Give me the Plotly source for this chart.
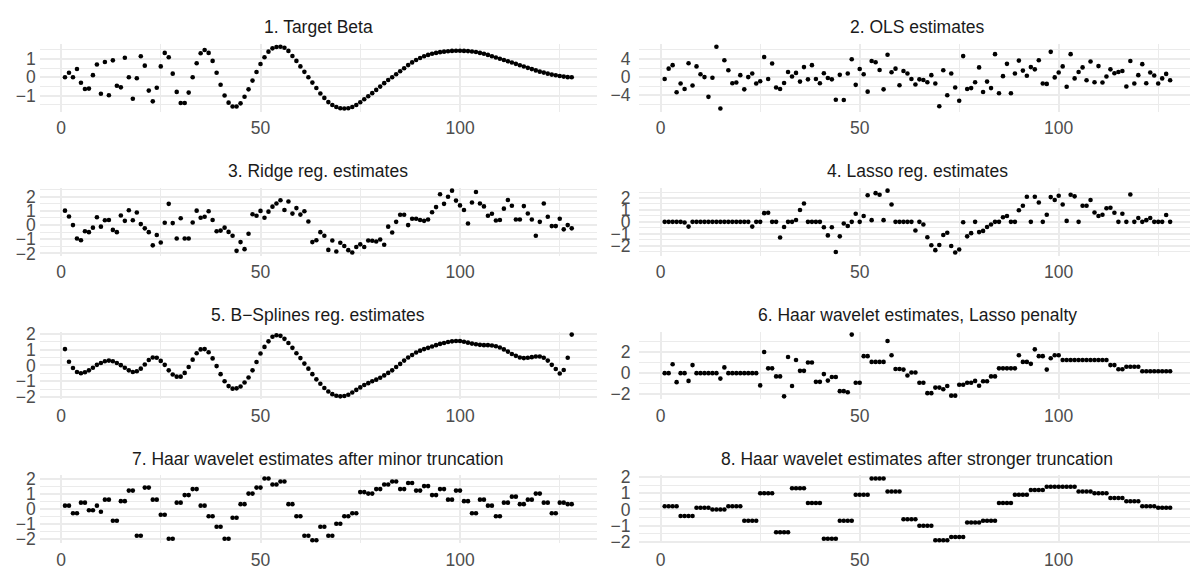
import plotly.graph_objects as go

# ---- data -----------------------------------------------------------------
index = list(range(1, 129))

target_beta = [
    0.0, 0.25, 0.0, 0.46, -0.3, -0.64, -0.62, 0.12, 0.7, -0.9,
    0.84, -0.98, 0.93, -0.46, -0.55, 1.07, 0.0, -1.18, -0.05, 1.16,
    0.64, -0.73, -1.32, -0.57, 0.6, 1.34, 1.1, 0.2, -0.8, -1.41,
    -1.41, -0.84, 0.0, 0.77, 1.32, 1.5, 1.34, 0.9, 0.25, -0.41,
    -1.0, -1.39, -1.6, -1.6, -1.43, -1.07, -0.66, -0.18, 0.29, 0.73,
    1.1, 1.41, 1.59, 1.66, 1.68, 1.62, 1.45, 1.17, 0.9, 0.6,
    0.3, 0.0, -0.29, -0.59, -0.89, -1.13, -1.36, -1.52, -1.63, -1.7,
    -1.71, -1.7, -1.63, -1.52, -1.37, -1.2, -1.04, -0.87, -0.69, -0.51,
    -0.32, -0.15, 0.0, 0.17, 0.33, 0.5, 0.67, 0.82, 0.95, 1.06,
    1.16, 1.23, 1.29, 1.34, 1.38, 1.41, 1.43, 1.45, 1.46, 1.46,
    1.45, 1.44, 1.42, 1.39, 1.34, 1.29, 1.23, 1.16, 1.09, 1.02,
    0.95, 0.88, 0.81, 0.74, 0.66, 0.59, 0.52, 0.45, 0.38, 0.31,
    0.26, 0.2, 0.15, 0.11, 0.07, 0.04, 0.01, 0.0,
]

ols = [
    -0.43, 1.86, 2.64, -3.36, -1.43, -2.64, 3.07, -1.86, 2.36, 0.64,
    0.0, -4.36, -0.14, 6.71, -6.93, 3.71, 1.5, -1.36, -1.21, 0.43,
    -2.71, 0.0, 0.79, -1.43, -0.93, 4.43, -0.43, 3.0, -2.29, -2.64,
    -1.29, 1.14, 0.14, 0.93, -1.0, 2.21, -0.5, 2.64, -0.43, -1.36,
    0.86, -0.21, -0.5, -5.0, 0.5, -5.07, 0.79, 3.93, -1.71, 1.79,
    0.64, -3.21, 3.57, 3.29, 1.57, -2.71, 4.93, 1.07, 1.86, -1.79,
    1.36, 0.79, -0.43, -1.64, -0.5, -0.64, -1.14, 0.43, -1.43, -6.43,
    1.5, -4.0, 0.79, -2.29, -5.21, 4.64, -2.64, -2.43, -1.14, 2.14,
    -3.29, -1.0, -2.43, 5.07, -3.57, 0.21, 2.93, -3.57, 0.79, 3.64,
    1.43, 0.29, 2.21, 1.71, 3.71, -1.43, -1.5, 5.57, -0.07, 1.0,
    2.36, -2.14, 5.07, -0.29, 1.14, 2.14, -0.71, 3.43, -1.14, 2.43,
    -1.21, 0.14, 1.71, 0.86, 1.14, 1.36, -2.07, 3.57, -1.43, 0.43,
    2.86, -1.36, 1.0, 0.36, -1.43, -0.29, 0.71, -0.71,
]

ridge = [
    1.02, 0.61, 0.0, -0.95, -1.07, -0.43, -0.5, -0.18, 0.55, -0.11,
    0.34, 0.36, -0.34, -0.5, 0.68, 0.3, 1.05, 0.34, 0.89, 0.07,
    -0.23, -0.5, -1.43, -0.7, -1.23, 0.16, 1.5, 0.14, -0.95, 0.48,
    -0.95, -0.95, 0.18, 1.02, 0.52, 0.59, 0.98, 0.36, -0.43, -0.39,
    -0.18, -0.48, -0.75, -1.82, -1.2, -1.7, -0.61, 0.77, 0.66, 1.0,
    0.52, 0.95, 1.3, 1.52, 1.75, 1.07, 1.66, 0.81, 1.2, 0.74,
    0.98, 0.25, -1.2, -1.07, -0.5, -0.75, -1.75, -1.09, -1.86, -1.25,
    -1.48, -1.77, -1.93, -1.55, -1.36, -1.55, -1.09, -1.11, -1.16, -1.02,
    -1.39, -0.11, -0.52, 0.23, 0.73, 0.73, 0.0, 0.45, 0.45, 0.36,
    0.3, 0.39, 0.91, 1.27, 2.18, 1.5, 2.0, 2.43, 1.73, 1.39,
    1.07, 0.11, 1.59, 2.34, 1.52, 1.32, 0.66, 0.8, 0.32, 0.36,
    1.16, 1.77, 1.36, 0.39, 0.39, 1.34, 0.82, 0.39, -0.75, 0.23,
    1.52, 0.59, -0.07, -0.07, 0.45, -0.3, 0.0, -0.23,
]

lasso = [
    0.0, 0.0, 0.0, 0.0, 0.0, -0.05, -0.4, 0.0, 0.0, 0.0,
    0.0, 0.0, 0.0, 0.0, 0.0, 0.0, 0.0, 0.0, 0.0, 0.0,
    0.0, 0.0, -0.4, 0.0, 0.0, 0.73, 0.76, 0.0, 0.0, -1.32,
    -0.43, 0.0, 0.0, 0.16, 1.0, 1.54, 0.0, 0.0, 0.0, 0.0,
    -0.46, -1.14, -0.46, -2.54, -1.22, -0.14, -0.35, 0.0, 0.68, 0.0,
    0.49, 2.24, 0.14, 2.41, 2.27, 0.14, 2.62, 1.46, 0.0, 0.0,
    0.0, 0.0, 0.0, -0.73, 0.0, -0.22, -1.3, -1.97, -2.38, -1.95,
    -1.11, -0.92, -2.03, -2.57, -2.32, -0.03, -1.22, -0.95, 0.0, -0.86,
    -0.76, -0.43, -0.22, 0.0, 0.0, 0.38, 0.49, 0.0, 0.0, 0.97,
    1.35, 2.11, 0.0, 2.11, 1.62, 0.0, 0.59, 2.08, 1.84, 2.19,
    1.46, 0.08, 2.27, 2.14, 0.0, 1.35, 1.35, 1.84, 0.78, 0.49,
    0.59, 1.14, 1.19, 0.76, 0.0, 0.68, 0.0, 2.3, 0.0, 0.32,
    0.0, 0.14, 0.32, 0.0, 0.0, 0.0, 0.57, 0.0,
]

bspline = [
    1.04, 0.24, -0.16, -0.41, -0.49, -0.43, -0.31, -0.14, 0.04, 0.16,
    0.27, 0.31, 0.27, 0.16, 0.02, -0.14, -0.31, -0.41, -0.37, -0.2,
    0.06, 0.35, 0.51, 0.49, 0.29, 0.04, -0.31, -0.57, -0.71, -0.71,
    -0.47, -0.1, 0.37, 0.78, 1.02, 1.04, 0.84, 0.45, -0.04, -0.55,
    -1.0, -1.31, -1.47, -1.45, -1.33, -1.08, -0.76, -0.31, 0.22, 0.76,
    1.18, 1.53, 1.82, 1.92, 1.88, 1.69, 1.43, 1.12, 0.78, 0.47,
    0.12, -0.2, -0.55, -0.88, -1.16, -1.43, -1.65, -1.82, -1.92, -1.96,
    -1.94, -1.86, -1.71, -1.55, -1.39, -1.24, -1.12, -1.0, -0.9, -0.78,
    -0.63, -0.47, -0.31, -0.1, 0.1, 0.31, 0.51, 0.67, 0.82, 0.94,
    1.04, 1.12, 1.2, 1.29, 1.37, 1.43, 1.49, 1.53, 1.55, 1.55,
    1.51, 1.45, 1.39, 1.35, 1.31, 1.29, 1.29, 1.27, 1.22, 1.14,
    1.02, 0.88, 0.73, 0.61, 0.51, 0.47, 0.49, 0.53, 0.57, 0.57,
    0.49, 0.31, 0.04, -0.22, -0.51, -0.29, 0.49, 1.96,
]

haar_lasso = [
    0.0, 0.0, 0.86, -0.86, 0.0, 0.0, -0.74, 0.77, 0.0, 0.0,
    0.0, 0.0, 0.0, 0.0, -0.52, 0.55, 0.0, 0.0, 0.0, 0.0,
    0.0, 0.0, 0.0, 0.0, -1.17, 2.03, 0.46, 0.46, -0.31, -0.31,
    -2.22, 1.54, -1.23, 1.26, 0.22, 0.22, 1.02, 1.02, -0.83, -0.83,
    -0.09, -0.71, -0.37, -0.37, -1.72, -1.72, -1.82, 3.69, -0.92, -0.92,
    1.63, 1.63, 1.08, 1.08, 1.08, 1.08, 3.08, 1.72, 0.4, 0.4,
    0.34, -0.22, 0.06, 0.06, -0.92, -0.92, -1.91, -1.91, -1.38, -1.38,
    -1.54, -1.23, -2.15, -2.15, -1.11, -1.11, -0.92, -0.92, -0.74, -1.2,
    -0.77, -0.77, -0.31, -0.31, 0.46, 0.46, 0.46, 0.46, 0.46, 1.72,
    1.08, 1.08, 0.89, 2.28, 1.63, 1.63, 0.34, 1.42, 1.72, 1.72,
    1.26, 1.26, 1.26, 1.26, 1.26, 1.26, 1.26, 1.26, 1.26, 1.26,
    1.26, 1.26, 0.77, 0.77, 0.37, 0.37, 0.62, 0.62, 0.62, 0.62,
    0.18, 0.18, 0.18, 0.18, 0.18, 0.18, 0.18, 0.18,
]

haar_minor = [
    0.2, 0.2, -0.3, -0.3, 0.4, 0.4, -0.1, -0.1, 0.2, -0.2,
    0.6, 0.6, -0.8, -0.8, 0.5, 0.5, 1.2, 1.2, -1.8, -1.8,
    1.4, 1.4, 0.6, 0.6, -0.4, -0.4, -2.0, -2.0, 0.4, 0.4,
    0.9, 0.9, 1.3, 1.3, 0.2, 0.2, -0.5, -0.5, -1.2, -1.2,
    -2.0, -2.0, -0.6, -0.6, 0.3, 0.3, 1.0, 1.0, 1.4, 1.4,
    2.0, 2.0, 1.6, 1.6, 1.8, 1.8, 0.3, 0.3, -0.5, -0.5,
    -1.8, -1.8, -2.1, -2.1, -1.2, -1.2, -1.8, -1.8, -1.0, -1.0,
    -0.5, -0.5, -0.3, -0.3, 1.1, 1.1, 1.0, 1.0, 1.3, 1.3,
    1.6, 1.6, 1.8, 1.8, 1.3, 1.3, 1.7, 1.7, 1.2, 1.2,
    1.5, 1.5, 0.9, 0.9, 1.3, 1.3, 0.6, 0.6, 1.2, 1.2,
    0.5, 0.5, -0.3, -0.3, 0.6, 0.6, 0.2, 0.2, -0.5, -0.5,
    0.4, 0.4, 0.8, 0.8, 0.3, 0.3, 0.6, 0.6, 1.0, 1.0,
    0.4, 0.4, -0.3, -0.3, 0.4, 0.4, 0.3, 0.3,
]

haar_strong = [
    0.2, 0.2, 0.2, 0.2, -0.4, -0.4, -0.4, -0.4, 0.1, 0.1,
    0.1, 0.1, 0.0, 0.0, 0.0, 0.0, 0.2, 0.2, 0.2, 0.2,
    -0.7, -0.7, -0.7, -0.7, 1.0, 1.0, 1.0, 1.0, -1.4, -1.4,
    -1.4, -1.4, 1.3, 1.3, 1.3, 1.3, 0.4, 0.4, 0.4, 0.4,
    -1.8, -1.8, -1.8, -1.8, -0.7, -0.7, -0.7, -0.7, 0.9, 0.9,
    0.9, 0.9, 1.9, 1.9, 1.9, 1.9, 1.1, 1.1, 1.1, 1.1,
    -0.6, -0.6, -0.6, -0.6, -1.0, -1.0, -1.0, -1.0, -1.9, -1.9,
    -1.9, -1.9, -1.7, -1.7, -1.7, -1.7, -0.8, -0.8, -0.8, -0.8,
    -0.7, -0.7, -0.7, -0.7, 0.4, 0.4, 0.4, 0.4, 0.9, 0.9,
    0.9, 0.9, 1.2, 1.2, 1.2, 1.2, 1.4, 1.4, 1.4, 1.4,
    1.4, 1.4, 1.4, 1.4, 1.1, 1.1, 1.1, 1.1, 1.0, 1.0,
    1.0, 1.0, 0.7, 0.7, 0.7, 0.7, 0.5, 0.5, 0.5, 0.5,
    0.2, 0.2, 0.2, 0.2, 0.1, 0.1, 0.1, 0.1,
]

panel_titles = [
    "1. Target Beta",
    "2. OLS estimates",
    "3. Ridge reg. estimates",
    "4. Lasso reg. estimates",
    "5. B\u2212Splines reg. estimates",
    "6. Haar wavelet estimates, Lasso penalty",
    "7. Haar wavelet estimates after minor truncation",
    "8. Haar wavelet estimates after stronger truncation",
]
panel_series = [target_beta, ols, ridge, lasso, bspline, haar_lasso,
                haar_minor, haar_strong]

# major / minor y gridlines for each panel
y_major = [
    [-1, 0, 1], [-4, 0, 4], [-2, -1, 0, 1, 2], [-2, -1, 0, 1, 2],
    [-2, -1, 0, 1, 2], [-2, 0, 2], [-2, -1, 0, 1, 2], [-2, -1, 0, 1, 2],
]
y_minor = [
    [-1.5, -0.5, 0.5, 1.5], [-6, -2, 2, 6],
    [-2.5, -1.5, -0.5, 0.5, 1.5, 2.5], [-2.5, -1.5, -0.5, 0.5, 1.5, 2.5],
    [-1.5, -0.5, 0.5, 1.5], [-3, -1, 1, 3],
    [-2.5, -1.5, -0.5, 0.5, 1.5, 2.5], [-2.5, -1.5, -0.5, 0.5, 1.5, 2.5],
]
x_major = [0, 50, 100]
x_minor = [25, 75, 125]

# ---- geometry (pixels) ----------------------------------------------------
W, H = 1190, 579
row_top = [36.7, 185.0, 333.3, 481.6]
panel_h = 70.0
col_x0 = [61.0, 660.7]          # pixel where x = 0
col_ppu = [3.99, 3.98]          # pixels per x unit
x_lo = 1 - 0.05 * 127
x_hi = 128 + 0.05 * 127


def lab(v):
    return f"{v:g}".replace("-", "\u2212")


fig = go.Figure()
FONT = "Liberation Sans, Arial, Helvetica, sans-serif"
GRID = "#EBEBEB"

for k in range(8):
    r, c = divmod(k, 2)
    n = k + 1
    xa = f"x{n}" if n > 1 else "x"
    ya = f"y{n}" if n > 1 else "y"

    left_px = col_x0[c] + x_lo * col_ppu[c]
    right_px = min(col_x0[c] + x_hi * col_ppu[c], W)
    xr = [x_lo, (right_px - col_x0[c]) / col_ppu[c]]

    vals = panel_series[k]
    lo, hi = min(vals), max(vals)
    pad = 0.05 * (hi - lo)
    yr = [lo - pad, hi + pad]

    top = row_top[r]
    ydom = [1 - (top + panel_h) / H, 1 - top / H]
    xdom = [left_px / W, right_px / W]

    fig.add_trace(go.Scatter(
        x=index, y=vals, mode="markers", xaxis=xa, yaxis=ya,
        marker=dict(color="black", size=4.6, line=dict(width=0)),
        showlegend=False, hoverinfo="skip", cliponaxis=False,
    ))

    xkey = "xaxis" if n == 1 else f"xaxis{n}"
    ykey = "yaxis" if n == 1 else f"yaxis{n}"
    fig.layout[xkey] = dict(
        domain=xdom, range=xr, anchor=ya, showline=False, zeroline=False,
        ticks="", tickmode="array", tickvals=x_major,
        ticktext=[lab(v) for v in x_major],
        showgrid=True, gridcolor=GRID, gridwidth=2,
        minor=dict(tickmode="array", tickvals=x_minor, showgrid=True,
                   gridcolor=GRID, gridwidth=1, ticks=""),
        tickfont=dict(family=FONT, size=17.5, color="#4D4D4D"),
        ticklabelstandoff=4, fixedrange=True,
    )
    fig.layout[ykey] = dict(
        domain=ydom, range=yr, anchor=xa, showline=False, zeroline=False,
        ticks="", tickmode="array", tickvals=y_major[k],
        ticktext=[lab(v) for v in y_major[k]],
        showgrid=True, gridcolor=GRID, gridwidth=2,
        minor=dict(tickmode="array", tickvals=y_minor[k], showgrid=True,
                   gridcolor=GRID, gridwidth=1, ticks=""),
        tickfont=dict(family=FONT, size=17.5, color="#4D4D4D"),
        ticklabelstandoff=3 if c == 0 else 8, fixedrange=True,
    )

    fig.add_annotation(
        text=panel_titles[k], xref="paper", yref="paper",
        x=(left_px + col_x0[c] + x_hi * col_ppu[c]) / 2 / W,
        y=1 - (top - 17.0) / H, xanchor="center", yanchor="middle",
        showarrow=False, font=dict(family=FONT, size=17.5, color="#1A1A1A"),
    )

fig.update_layout(
    width=W, height=H, margin=dict(l=0, r=0, t=0, b=0),
    paper_bgcolor="white", plot_bgcolor="white",
)

fig.write_html("out.html")
